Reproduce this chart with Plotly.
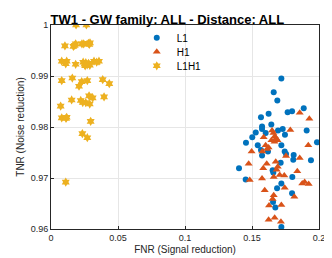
import plotly.graph_objects as go

l1_fnr = [0.1719, 0.1662, 0.1689, 0.1766, 0.1799, 0.1886, 0.1624, 0.1567, 0.1644, 0.1575,
          0.1575, 0.1602, 0.1528, 0.1502, 0.1455, 0.1543, 0.1567, 0.1619, 0.1575, 0.1694,
          0.1729, 0.1746, 0.1719, 0.1744, 0.1754, 0.1811, 0.1808, 0.1908, 0.1985, 0.1940,
          0.1403, 0.1453, 0.1654, 0.1659, 0.1714, 0.1801, 0.1719, 0.1687, 0.1799, 0.1657,
          0.1674, 0.1719]
l1_tnr = [0.9895, 0.9868, 0.9852, 0.9829, 0.9831, 0.9837, 0.9826, 0.9819, 0.9805, 0.9801,
          0.9796, 0.9788, 0.9789, 0.9780, 0.9769, 0.9764, 0.9755, 0.9752, 0.9744, 0.9793,
          0.9796, 0.9785, 0.9764, 0.9752, 0.9747, 0.9745, 0.9736, 0.9793, 0.9770, 0.9735,
          0.9719, 0.9697, 0.9715, 0.9711, 0.9730, 0.9702, 0.9689, 0.9680, 0.9670, 0.9653,
          0.9642, 0.9604]

h1_fnr = [0.1856, 0.1928, 0.1786, 0.1650, 0.1660, 0.1670, 0.1680, 0.1690, 0.1645, 0.1668,
          0.1587, 0.1602, 0.1624, 0.1612, 0.1497, 0.1577, 0.1754, 0.1920, 0.1856, 0.1475,
          0.1610, 0.1677, 0.1692, 0.1684, 0.1584, 0.1838, 0.1707, 0.1741, 0.1662, 0.1575,
          0.1483, 0.1744, 0.1875, 0.1893, 0.1923, 0.1595, 0.1662, 0.1654, 0.1816, 0.1627,
          0.1719, 0.1624, 0.1669, 0.1716]
h1_tnr = [0.9828, 0.9816, 0.9794, 0.9793, 0.9788, 0.9782, 0.9778, 0.9774, 0.9774, 0.9771,
          0.9780, 0.9764, 0.9760, 0.9757, 0.9752, 0.9752, 0.9743, 0.9764, 0.9739, 0.9728,
          0.9728, 0.9732, 0.9722, 0.9716, 0.9719, 0.9713, 0.9706, 0.9705, 0.9702, 0.9699,
          0.9696, 0.9681, 0.9689, 0.9692, 0.9688, 0.9676, 0.9666, 0.9659, 0.9663, 0.9646,
          0.9647, 0.9618, 0.9622, 0.9614]

l1h1_fnr = [0.0187, 0.0264, 0.0104, 0.0167, 0.0177, 0.0184, 0.0231, 0.0244, 0.0279, 0.0291,
            0.0286, 0.0080, 0.0117, 0.0110, 0.0184, 0.0240, 0.0250, 0.0260, 0.0270, 0.0280,
            0.0290, 0.0255, 0.0321, 0.0341, 0.0358, 0.0080, 0.0159, 0.0209, 0.0229, 0.0271,
            0.0386, 0.0435, 0.0072, 0.0154, 0.0222, 0.0237, 0.0259, 0.0289, 0.0284, 0.0311,
            0.0396, 0.0080, 0.0112, 0.0117, 0.0296, 0.0234, 0.0271, 0.0110]
l1h1_tnr = [1.0000, 1.0000, 0.9959, 0.9958, 0.9960, 0.9963, 0.9963, 0.9963, 0.9964, 0.9965,
            0.9962, 0.9929, 0.9929, 0.9924, 0.9923, 0.9927, 0.9923, 0.9926, 0.9922, 0.9925,
            0.9921, 0.9920, 0.9929, 0.9927, 0.9929, 0.9891, 0.9896, 0.9880, 0.9889, 0.9891,
            0.9893, 0.9885, 0.9841, 0.9853, 0.9852, 0.9848, 0.9848, 0.9845, 0.9861, 0.9857,
            0.9859, 0.9818, 0.9817, 0.9819, 0.9811, 0.9787, 0.9779, 0.9692]

x_ticks = [0, 0.05, 0.1, 0.15, 0.2]
x_labels = ["0", "0.05", "0.1", "0.15", "0.2"]
y_ticks = [0.96, 0.97, 0.98, 0.99, 1.0]
y_labels = ["0.96", "0.97", "0.98", "0.99", "1"]

FONT = "Liberation Sans, Arial, sans-serif"

fig = go.Figure()
fig.add_trace(go.Scatter(x=l1_fnr, y=l1_tnr, mode="markers", name="L1", legend="legend",
                         marker=dict(symbol="circle", size=6, color="#0072BD")))
fig.add_trace(go.Scatter(x=h1_fnr, y=h1_tnr, mode="markers", name="H1", legend="legend2",
                         marker=dict(symbol="triangle-up", size=7, color="#D95319")))
fig.add_trace(go.Scatter(x=l1h1_fnr, y=l1h1_tnr, mode="markers", name="L1H1", legend="legend3",
                         marker=dict(symbol="hexagram", size=7, color="#EDB120")))

axis_common = dict(showline=True, linecolor="#262626", linewidth=1, mirror=True,
                   ticks="inside", ticklen=3, tickcolor="#262626",
                   showgrid=True, gridcolor="#E6E6E6", gridwidth=1, zeroline=False,
                   tickfont=dict(size=9, color="#262626", family=FONT))

leg_common = dict(xanchor="left", yanchor="middle", bgcolor="rgba(0,0,0,0)",
                  font=dict(size=10, color="black", family=FONT))
leg_x = 0.32

fig.update_layout(
    width=332, height=258,
    margin=dict(l=41, r=21, t=17, b=31),
    paper_bgcolor="white", plot_bgcolor="white",
    title=dict(text="<b>TW1 - GW family: ALL - Distance: ALL</b>", xref="container", x=0.48,
               xanchor="center", y=0.975, yanchor="top",
               font=dict(size=13, color="black", family=FONT)),
    xaxis=dict(range=[0, 0.2], tickvals=x_ticks, ticktext=x_labels,
               title=dict(text="FNR (Signal reduction)", standoff=4,
                          font=dict(size=10, color="#262626", family=FONT)),
               **axis_common),
    yaxis=dict(range=[0.96, 1.0], tickvals=y_ticks, ticktext=y_labels,
               title=dict(text="TNR (Noise reduction)", standoff=4,
                          font=dict(size=10, color="#262626", family=FONT)),
               **axis_common),
    legend=dict(x=leg_x, y=0.937, **leg_common),
    legend2=dict(x=leg_x, y=0.869, **leg_common),
    legend3=dict(x=leg_x, y=0.80, **leg_common),
    showlegend=True,
)

fig.write_html("out.html")
